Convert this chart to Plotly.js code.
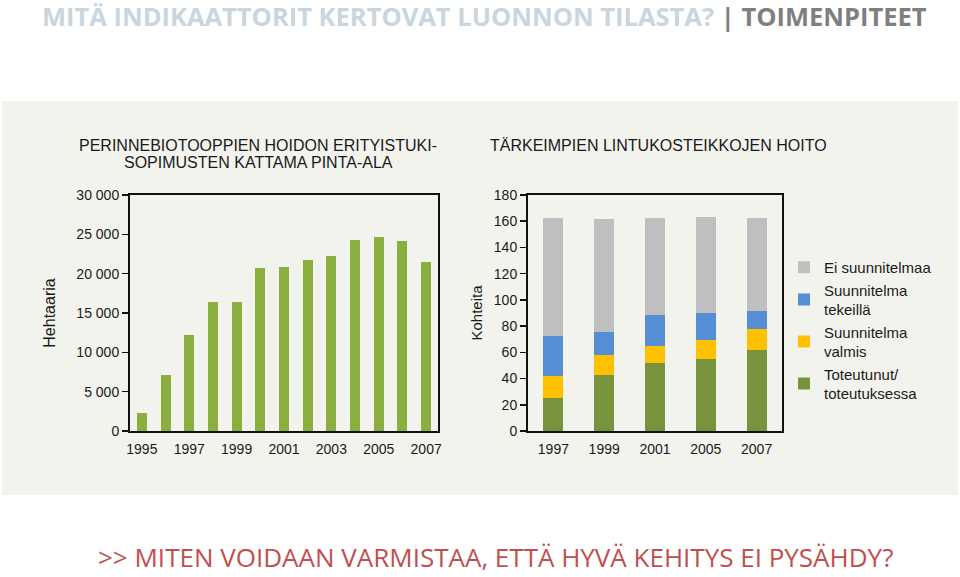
<!DOCTYPE html>
<html>
<head>
<meta charset="utf-8">
<script src="https://cdn.plot.ly/plotly-3.0.1.min.js"></script>
<style>html,body{margin:0;padding:0;background:#fff;}#chart{width:960px;height:577px;}</style>
</head>
<body>
<div id="chart"></div>
<script>
// Left chart: area under special support agreements (hectares)
const areaYears = [1995,1996,1997,1998,1999,2000,2001,2002,2003,2004,2005,2006,2007];
const areaHa = [2300,7100,12200,16350,16350,20700,20900,21800,22200,24300,24600,24200,21500];
const areaTicks = [1995,1997,1999,2001,2003,2005,2007];
const areaYTicks = [0,5000,10000,15000,20000,25000,30000];
const areaYLabels = ['0','5 000','10 000','15 000','20 000','25 000','30 000'];

// Right chart: bird wetlands management (number of sites)
const siteYears = ['1997','1999','2001','2005','2007'];
const toteutunut = [25.5,43,52,55,61.5];
const valmis = [16.2,15,13.2,14.7,16];
const tekeilla = [31,17.5,23,20.3,14.3];
const eiSuunnitelmaa = [90,86.5,74,73,71];
const siteYTicks = [0,20,40,60,80,100,120,140,160,180];

const W = 960, H = 577;
const px = x => x / W;
const py = y => 1 - y / H;
const txt = '#1a1a1a';
const F = 'Liberation Sans, Arial, sans-serif';

const traces = [
  {type:'bar', x:areaYears, y:areaHa, width:0.42, marker:{color:'#8baf3f'}, xaxis:'x', yaxis:'y', showlegend:false, hoverinfo:'x+y'},
  {type:'bar', x:siteYears, y:toteutunut, name:'Toteutunut/<br>toteutuksessa', width:0.39, marker:{color:'#77933c'}, xaxis:'x2', yaxis:'y2'},
  {type:'bar', x:siteYears, y:valmis, name:'Suunnitelma<br>valmis', width:0.39, marker:{color:'#ffc000'}, xaxis:'x2', yaxis:'y2'},
  {type:'bar', x:siteYears, y:tekeilla, name:'Suunnitelma<br>tekeillä', width:0.39, marker:{color:'#558ed5'}, xaxis:'x2', yaxis:'y2'},
  {type:'bar', x:siteYears, y:eiSuunnitelmaa, name:'Ei suunnitelmaa', width:0.39, marker:{color:'#bfbfbf'}, xaxis:'x2', yaxis:'y2'}
];

const axBase = {showline:true, mirror:true, linecolor:'#111', linewidth:2, showgrid:false, zeroline:false,
  tickfont:{family:F, size:14, color:txt}, fixedrange:true};

const layout = {
  width:W, height:H,
  margin:{l:0,r:0,t:0,b:0},
  paper_bgcolor:'#ffffff',
  plot_bgcolor:'#ffffff',
  barmode:'stack',
  showlegend:true,
  legend:{x:px(784), y:py(251), xanchor:'left', yanchor:'top', traceorder:'reversed',
    font:{family:F, size:15, color:txt}, bgcolor:'rgba(0,0,0,0)', itemwidth:30},
  xaxis:Object.assign({}, axBase, {domain:[px(130), px(438)], anchor:'y', range:[1994.5,2007.5],
    tickvals:areaTicks, ticks:'', ticklen:0, ticklabelstandoff:4}),
  yaxis:Object.assign({}, axBase, {domain:[py(431), py(195)], anchor:'x', range:[0,30000],
    tickvals:areaYTicks, ticktext:areaYLabels, ticks:'outside', ticklen:6, tickcolor:'#111', tickwidth:1.5,
    title:{text:'Hehtaaria', font:{family:F, size:16, color:txt}, standoff:17}}),
  xaxis2:Object.assign({}, axBase, {domain:[px(528), px(782)], anchor:'y2', type:'category',
    ticks:'', ticklen:0, ticklabelstandoff:4}),
  yaxis2:Object.assign({}, axBase, {domain:[py(431), py(195)], anchor:'x2', range:[0,180],
    tickvals:siteYTicks, ticks:'outside', ticklen:6, tickcolor:'#111', tickwidth:1.5,
    title:{text:'Kohteita', font:{family:F, size:15, color:txt}, standoff:8}}),
  shapes:[
    {type:'rect', xref:'paper', yref:'paper', x0:px(2), x1:px(958), y0:py(495), y1:py(101),
      fillcolor:'#f3f3ee', line:{width:0}, layer:'below'}
  ],
  annotations:[
    {xref:'paper', yref:'paper', x:px(40), y:py(16), xanchor:'left', yanchor:'middle', showarrow:false,
      text:'<span style="color:#c9d6dd">MITÄ INDIKAATTORIT KERTOVAT LUONNON TILASTA?</span> <span style="color:#7f7f7f">| TOIMENPITEET</span>',
      font:{family:'Open Sans, sans-serif', size:25.5, weight:700}},
    {xref:'paper', yref:'paper', x:px(258), y:py(145), xanchor:'center', yanchor:'middle', showarrow:false,
      text:'PERINNEBIOTOOPPIEN HOIDON ERITYISTUKI-',
      font:{family:F, size:16, color:txt}},
    {xref:'paper', yref:'paper', x:px(258), y:py(162), xanchor:'center', yanchor:'middle', showarrow:false,
      text:'SOPIMUSTEN KATTAMA PINTA-ALA',
      font:{family:F, size:16, color:txt}},
    {xref:'paper', yref:'paper', x:px(488), y:py(145), xanchor:'left', yanchor:'middle', showarrow:false,
      text:'TÄRKEIMPIEN LINTUKOSTEIKKOJEN HOITO',
      font:{family:F, size:16, color:txt}},
    {xref:'paper', yref:'paper', x:px(495), y:py(557), xanchor:'center', yanchor:'middle', showarrow:false,
      text:'&gt;&gt; MITEN VOIDAAN VARMISTAA, ETTÄ HYVÄ KEHITYS EI PYSÄHDY?',
      font:{family:'Open Sans, sans-serif', size:26, color:'#c0504d'}}
  ]
};

Plotly.newPlot('chart', traces, layout, {displayModeBar:false, staticPlot:true});
</script>
</body>
</html>
